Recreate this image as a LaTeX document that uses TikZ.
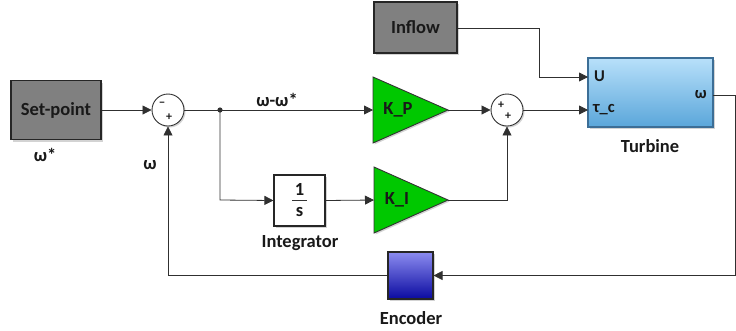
\documentclass[tikz,border=0pt]{standalone}
\usepackage{fontspec}
\setmainfont{Carlito}
\usetikzlibrary{arrows.meta,shadows}
\definecolor{wirec}{HTML}{303030}
\definecolor{grayfill}{HTML}{808080}
\definecolor{kgreen}{HTML}{00C800}
\definecolor{turbtop}{HTML}{B8E0FA}
\definecolor{turbbot}{HTML}{5AA6DA}
\definecolor{turbedge}{HTML}{3C6E96}
\definecolor{enctop}{HTML}{8C8CF0}
\definecolor{encbot}{HTML}{0A0AA0}
\begin{document}
\begin{tikzpicture}[x=1pt,y=-1pt,
  every node/.style={font=\fontsize{18.5}{20}\selectfont\bfseries, text=black!90},
  wire/.style={draw=wirec, line width=0.8pt},
  arr/.style={wire, -{Triangle[length=9pt,width=9pt]}},
  blk/.style={draw=black!85, line width=1.1pt, rectangle, inner sep=0pt,
     drop shadow={shadow xshift=2pt, shadow yshift=-2pt, opacity=0.35}},
  graybox/.style={blk, fill=grayfill},
  sumc/.style={circle, draw=black!80, fill=white, line width=0.9pt, minimum size=32pt, inner sep=0pt,
     drop shadow={shadow xshift=1.5pt, shadow yshift=-1.5pt, opacity=0.35}},
  sign/.style={font=\fontsize{12}{12}\selectfont\bfseries, inner sep=0pt},
  port/.style={font=\fontsize{16.5}{17}\selectfont\bfseries, inner sep=0pt},
  tri/.style={draw=black!80, line width=0.9pt, fill=kgreen},
  lbl/.style={font=\fontsize{18.5}{20}\selectfont\bfseries}
]
\useasboundingbox (0,0) rectangle (736,330);

% blocks
\node[graybox, minimum width=90pt, minimum height=59pt] (sp) at (56,110) {Set-point};
\node[graybox, minimum width=83pt, minimum height=51pt] (inflow) at (415.5,27.5) {Inflow};
\node[sumc] (s1) at (168,110) {};
\node[sign] (s1m) at (162,104) {−};
\node[sign] (s1p) at (169,117) {+};
\node[sumc] (s2) at (507,110) {};
\node[sign] (s2a) at (501,105) {+};
\node[sign] (s2b) at (508,116) {+};

% gain triangles
\draw[tri, drop shadow={shadow xshift=1.5pt, shadow yshift=-1.5pt, opacity=0.35}] (373,77) -- (448,110) -- (373,143) -- cycle;
\coordinate (kpin) at (373,110);
\coordinate (kpout) at (448,110);
\node (kp) at (398,110) {K\_P};
\draw[tri, drop shadow={shadow xshift=1.5pt, shadow yshift=-1.5pt, opacity=0.35}] (374,167) -- (448,200) -- (374,233) -- cycle;
\coordinate (kiin) at (374,200);
\coordinate (kiout) at (448,200);
\node (ki) at (397,200) {K\_I};

% integrator
\node[blk, fill=white, minimum width=51pt, minimum height=51pt] (int) at (299.5,200.5) {};
\node[inner sep=0pt] (int1) at (299.5,189) {1};
\draw[line width=0.8pt, black!80] (292,200.5) -- (307,200.5);
\node[inner sep=0pt] (ints) at (299.5,212) {s};

% turbine
\node[blk, draw=turbedge, top color=turbtop, bottom color=turbbot, minimum width=125pt, minimum height=69pt] (turb) at (650.5,92.5) {};
\coordinate (tu) at (588,77);
\coordinate (ttau) at (588,110);
\coordinate (tw) at (713,95);
\node[port, anchor=west] (pu) at (594,76) {U};
\node[port, anchor=west] (ptau) at (593,110) {τ\_c};
\node[port, anchor=east] (pw) at (707,95) {ω};

% encoder
\node[blk, draw=black!85, top color=enctop, bottom color=encbot, minimum width=45pt, minimum height=47pt] (enc) at (410.5,275.5) {};

% labels
\node[lbl] (lsp) at (45,155) {ω*};
\node[lbl] (lw) at (150,165) {ω};
\node[lbl] (lerr) at (277,100) {ω-ω*};
\node[lbl] (lturb) at (650,146) {Turbine};
\node[lbl] (lint) at (300,243) {Integrator};
\node[lbl] (lenc) at (411,318) {Encoder};

% wires
\coordinate (j) at (220,110);
\coordinate (jd) at (220,200);
\coordinate (kr) at (507,200);
\coordinate (ic) at (539,28);
\coordinate (id) at (539,77);
\coordinate (r1) at (735,95);
\coordinate (r2) at (735,275.5);
\coordinate (fb) at (168,275.5);

\draw[arr] (sp.east) -- (s1.west);
\draw[wire] (s1.east) -- (j);
\draw[arr] (j) -- (kpin);
\draw[arr] (j) -- (jd) -- (int.west);
\fill[wirec] (j) circle (2.6pt);
\draw[arr] (int.east) -- (kiin);
\draw[arr] (kiout) -- (kr) -- (s2.south);
\draw[arr] (kpout) -- (s2.west);
\draw[arr] (s2.east) -- (ttau);
\draw[arr] (inflow.east |- ic) -- (ic) -- (id) -- (tu);
\draw[arr] (tw) -- (r1) -- (r2) -- (enc.east);
\draw[arr] (enc.west) -- (fb) -- (s1.south);
\end{tikzpicture}
\end{document}
